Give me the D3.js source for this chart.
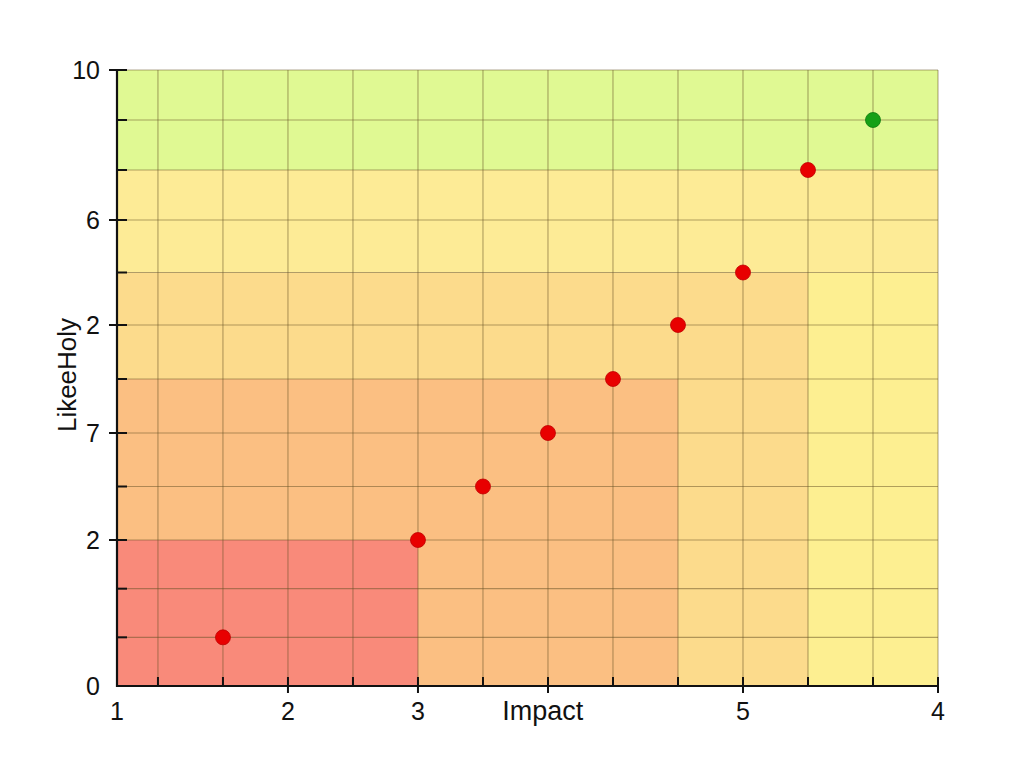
<!DOCTYPE html>
<html>
<head>
<meta charset="utf-8">
<script src="https://cdn.jsdelivr.net/npm/d3@7"></script>
<style>
  body { margin: 0; background: #fff; }
  text { font-family: "Liberation Sans", Arial, sans-serif; fill: #111; }
</style>
</head>
<body>
<script>
// data (grid units)
const pointX = [1, 4, 5, 6, 7, 8, 9, 10, 11];
const pointY = [1, 3, 4, 5, 6, 7, 8, 10, 11];
const pointKind = ["red", "red", "red", "red", "red", "red", "red", "red", "green"];

// risk zones, drawn back to front
const zoneX0 = [-0.63, -0.63, 10, -0.63, -0.63, -0.63];
const zoneX1 = [12, 12, 12, 10, 8, 4];
const zoneY0 = [10, 8, 0, 0, 0, 0];
const zoneY1 = [12, 10, 8, 8, 6, 3];
const zoneFill = ["#e0f993", "#fdeb96", "#fdef91", "#fcdb8c", "#fbbf82", "#f98a7a"];

const xTickLabels = ["1", "2", "3", "Impact", "5", "4"];
const xTickLabelPos = [-0.63, 2, 4, 5.92, 9, 12];
const xMajor = [2, 4, 6, 9, 12];
const yTickLabels = ["0", "2", "7", "2", "6", "10"];
const yMajor = [0, 3, 5, 7, 9, 12];
const yTitle = "LikeeHoly";

const width = 1024, height = 768;
const x = d3.scaleLinear().domain([-0.63, 12]).range([117, 938]);
// the printed grid is not quite even, so the scale is piecewise between major ticks
const y = d3.scaleLinear().domain(yMajor).range([686, 540, 433, 325, 220, 70]);

const svg = d3.select("body").append("svg")
  .attr("width", width).attr("height", height);

// zones
svg.append("g").selectAll("rect")
  .data(zoneFill)
  .join("rect")
  .attr("x", (d, i) => x(zoneX0[i]))
  .attr("y", (d, i) => y(zoneY1[i]))
  .attr("width", (d, i) => x(zoneX1[i]) - x(zoneX0[i]))
  .attr("height", (d, i) => y(zoneY0[i]) - y(zoneY1[i]))
  .attr("fill", d => d);

// grid
const grid = svg.append("g")
  .attr("stroke", "rgba(100,80,35,0.5)")
  .attr("stroke-width", 1.1);
grid.selectAll("line.v")
  .data(d3.range(0, 13))
  .join("line")
  .attr("class", "v")
  .attr("x1", d => x(d)).attr("x2", d => x(d))
  .attr("y1", y(0)).attr("y2", y(12));
grid.selectAll("line.h")
  .data(d3.range(1, 13))
  .join("line")
  .attr("class", "h")
  .attr("x1", x(-0.63)).attr("x2", x(12))
  .attr("y1", d => y(d)).attr("y2", d => y(d));

// x axis: minor ticks inward, major ticks cross the line
const xAxis = svg.append("g").attr("stroke", "#111");
xAxis.selectAll("line.t")
  .data(d3.range(0, 13))
  .join("line")
  .attr("class", "t")
  .attr("x1", d => x(d)).attr("x2", d => x(d))
  .attr("y1", y(0) - 9)
  .attr("y2", d => xMajor.includes(d) ? y(0) + 7 : y(0))
  .attr("stroke-width", 2);
xAxis.append("line")
  .attr("x1", x(-0.63) - 1).attr("x2", x(12))
  .attr("y1", y(0)).attr("y2", y(0))
  .attr("stroke-width", 2.2);

svg.append("g").selectAll("text")
  .data(xTickLabels)
  .join("text")
  .attr("x", (d, i) => x(xTickLabelPos[i]))
  .attr("y", 720)
  .attr("text-anchor", "middle")
  .style("font-size", d => d === "Impact" ? "27px" : "25px")
  .text(d => d);

// y axis
const yAxis = svg.append("g").attr("stroke", "#111");
yAxis.selectAll("line.t")
  .data(d3.range(1, 13))
  .join("line")
  .attr("class", "t")
  .attr("y1", d => y(d)).attr("y2", d => y(d))
  .attr("x1", d => yMajor.includes(d) ? x(-0.63) - 8 : x(-0.63))
  .attr("x2", x(-0.63) + 10)
  .attr("stroke-width", 2);
yAxis.append("line")
  .attr("x1", x(-0.63)).attr("x2", x(-0.63))
  .attr("y1", y(12)).attr("y2", y(0) + 1)
  .attr("stroke-width", 2.2);

svg.append("g").selectAll("text")
  .data(yTickLabels)
  .join("text")
  .attr("x", 100)
  .attr("y", (d, i) => y(yMajor[i]))
  .attr("dy", "0.36em")
  .attr("text-anchor", "end")
  .style("font-size", "25px")
  .text(d => d);

svg.append("text")
  .attr("transform", `translate(76,375) rotate(-90)`)
  .attr("text-anchor", "middle")
  .style("font-size", "26px")
  .text(yTitle);

// points
svg.append("g").selectAll("circle")
  .data(pointX)
  .join("circle")
  .attr("cx", d => x(d))
  .attr("cy", (d, i) => y(pointY[i]))
  .attr("r", 7.5)
  .attr("fill", (d, i) => pointKind[i] === "green" ? "#16a016" : "#e80000")
  .attr("stroke", (d, i) => pointKind[i] === "green" ? "#0c7a0c" : "#c00000")
  .attr("stroke-width", 0.8);
</script>
</body>
</html>
